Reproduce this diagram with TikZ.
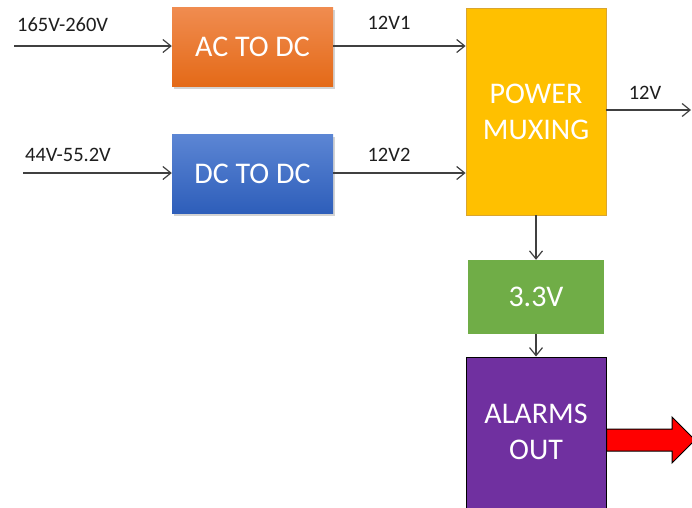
\documentclass[tikz,border=0pt]{standalone}
\usepackage{fontspec}
\setmainfont{Carlito}
\usetikzlibrary{arrows.meta,shadows}
\definecolor{acTop}{HTML}{F08C50}
\definecolor{acBot}{HTML}{E46A18}
\definecolor{dcTop}{HTML}{5C86D4}
\definecolor{dcBot}{HTML}{2E5EBA}
\definecolor{muxFill}{HTML}{FFC000}
\definecolor{muxEdge}{HTML}{D9A530}
\definecolor{greenFill}{HTML}{70AD47}
\definecolor{purpleFill}{HTML}{7030A0}
\definecolor{wireCol}{HTML}{404040}
\definecolor{labCol}{HTML}{1E1E1E}
\tikzset{
  boxtext/.style={text=white,font=\fontsize{30}{36}\selectfont,align=center},
  convbox/.style={rectangle,minimum width=161pt,minimum height=79pt,inner sep=0pt,boxtext,
    drop shadow={shadow xshift=2pt,shadow yshift=-2.5pt,opacity=0.35}},
  wire/.style={draw=wireCol,line width=1.3pt,-{Straight Barb[length=8pt,width=13pt,line width=1.2pt]}},
  lab/.style={text=labCol,font=\fontsize{20.5}{24}\selectfont,inner sep=0pt}
}
\begin{document}
\begin{tikzpicture}[x=1pt,y=-1pt]
\useasboundingbox (0,0) rectangle (692,507);
\clip (0,0) rectangle (692,507);
% boxes
\node[convbox,top color=acTop,bottom color=acBot] (ac) at (252.5,46.5) {AC TO DC};
\node[convbox,top color=dcTop,bottom color=dcBot] (dc) at (252.5,173.5) {DC TO DC};
\node[rectangle,fill=muxFill,draw=muxEdge,line width=0.8pt,minimum width=140pt,minimum height=207pt,inner sep=0pt,boxtext] (mux) at (536,111.5) {POWER\\MUXING};
\node[rectangle,fill=greenFill,minimum width=136pt,minimum height=74pt,inner sep=0pt,boxtext] (v33) at (536,297) {3.3V};
\node[rectangle,fill=purpleFill,draw=black,line width=1pt,minimum width=140pt,minimum height=160pt,inner sep=0pt] (alarm) at (536,437) {};
\node[boxtext,inner sep=0pt] (alarmtext) at (536,432) {ALARMS\\OUT};
% input coordinates
\coordinate (in1) at (14,46);
\coordinate (in2) at (23,173);
\coordinate (out12) at (691,110);
% connectors
\draw[wire] (in1) -- (ac.west |- in1);
\draw[wire] (in2) -- (dc.west |- in2);
\draw[wire] (ac.east |- in1) -- (mux.west |- in1);
\draw[wire] (dc.east |- in2) -- (mux.west |- in2);
\draw[wire] (mux.east |- out12) -- (out12);
\draw[wire] (mux.south) -- (v33.north);
\draw[wire] (v33.south) -- (alarm.north);
% labels
\node[lab,anchor=west] (l1) at (17,25) {165V-260V};
\node[lab,anchor=west] (l2) at (25,155) {44V-55.2V};
\node[lab] (l3) at (389,23) {12V1};
\node[lab] (l4) at (389,155) {12V2};
\node[lab] (l5) at (645,93) {12V};
% red fat arrow
\draw[fill=red,draw=black,line width=1pt]
  (alarm.east |- 0,429) -- (672,429) -- (672,417) -- (695,440) -- (672,463) -- (672,451) -- (alarm.east |- 0,451) -- cycle;
\end{tikzpicture}
\end{document}
